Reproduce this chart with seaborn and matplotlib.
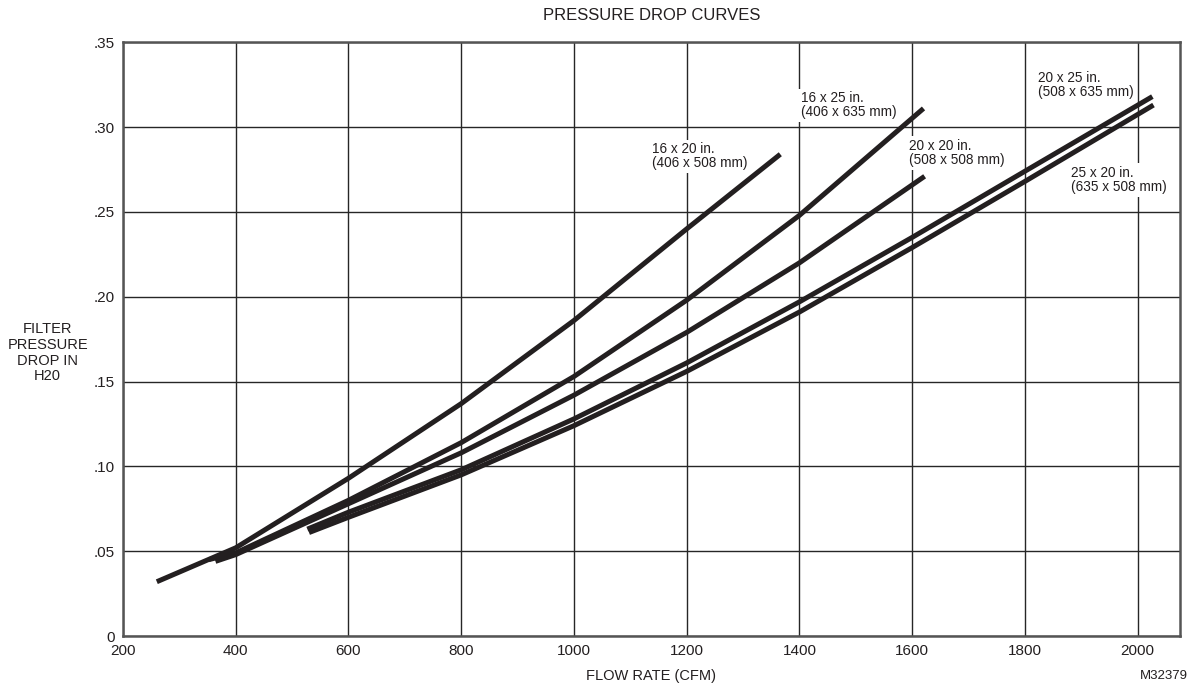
import numpy as np
import pandas as pd
import matplotlib
matplotlib.use("Agg")
import matplotlib.pyplot as plt
import seaborn as sns

# curves (flow in CFM, pressure drop in in. H2O)
flow_16x20 = [260, 400, 600, 800, 1000, 1200, 1366]
drop_16x20 = [0.032, 0.052, 0.093, 0.137, 0.186, 0.240, 0.284]

flow_16x25 = [352, 400, 600, 800, 1000, 1200, 1400, 1620]
drop_16x25 = [0.045, 0.049, 0.080, 0.114, 0.153, 0.198, 0.248, 0.311]

flow_20x20 = [364, 400, 600, 800, 1000, 1200, 1400, 1622]
drop_20x20 = [0.044, 0.048, 0.078, 0.108, 0.142, 0.179, 0.220, 0.271]

flow_20x25 = [527, 600, 800, 1000, 1200, 1400, 1600, 1800, 2026]
drop_20x25 = [0.063, 0.073, 0.098, 0.128, 0.161, 0.197, 0.235, 0.274, 0.318]

flow_25x20 = [530, 600, 800, 1000, 1200, 1400, 1600, 1800, 2028]
drop_25x20 = [0.061, 0.070, 0.095, 0.124, 0.156, 0.191, 0.229, 0.268, 0.313]

curve_labels = ["16 x 20 in.\n(406 x 508 mm)", "16 x 25 in.\n(406 x 635 mm)",
                "20 x 20 in.\n(508 x 508 mm)", "20 x 25 in.\n(508 x 635 mm)",
                "25 x 20 in.\n(635 x 508 mm)"]
label_pos = [(1139, 0.291), (1403, 0.321), (1595, 0.293), (1824, 0.333), (1881, 0.277)]

x_ticks = [200, 400, 600, 800, 1000, 1200, 1400, 1600, 1800, 2000]
y_ticks = [0, 0.05, 0.10, 0.15, 0.20, 0.25, 0.30, 0.35]
y_ticklabels = ["0", ".05", ".10", ".15", ".20", ".25", ".30", ".35"]

sns.set_style("white")
plt.rcParams["font.family"] = ["Liberation Sans", "DejaVu Sans"]
narrow = ["Liberation Sans Narrow", "Liberation Sans", "DejaVu Sans"]

fig = plt.figure(figsize=(11.93, 6.92), dpi=100)
ax = fig.add_axes([0.1031, 0.0809, 0.886, 0.858])

line_col = "#231f20"
curves = [(flow_16x20, drop_16x20), (flow_16x25, drop_16x25), (flow_20x20, drop_20x20),
          (flow_20x25, drop_20x25), (flow_25x20, drop_25x20)]
for fx, dy in curves:
    sns.lineplot(x=fx, y=dy, ax=ax, color=line_col, lw=3.6, sort=False,
                 solid_capstyle="butt", solid_joinstyle="round", zorder=3)

ax.set_xlim(200, 2075)
ax.set_ylim(0, 0.35)
ax.set_xticks(x_ticks)
ax.set_yticks(y_ticks)
ax.set_yticklabels(y_ticklabels)
ax.tick_params(axis="both", length=0, labelsize=11, colors="#231f20", pad=6)
ax.grid(True, color="#262626", lw=1.0, zorder=1)
ax.set_axisbelow(True)
for sp in ax.spines.values():
    sp.set_color("#555555")
    sp.set_linewidth(1.8)

for txt, (lx, ly) in zip(curve_labels, label_pos):
    ax.text(lx, ly, txt, ha="left", va="top", fontsize=9.8, family=narrow,
            color="#231f20", linespacing=1.0, zorder=2,
            bbox=dict(facecolor="white", edgecolor="none", pad=2))

ax.set_xlabel("")
ax.set_ylabel("")
fig.text(0.546, 0.977, "PRESSURE DROP CURVES", ha="center", va="center",
         fontsize=12, family=narrow, color="#231f20")
fig.text(0.546, 0.023, "FLOW RATE (CFM)", ha="center", va="center",
         fontsize=10.5, color="#231f20")
fig.text(0.04, 0.49, "FILTER\nPRESSURE\nDROP IN\nH20", ha="center", va="center",
         fontsize=10.5, color="#231f20", linespacing=1.15)
fig.text(0.976, 0.023, "M32379", ha="center", va="center",
         fontsize=9.5, color="#231f20")

fig.savefig("out.png", dpi=100)
